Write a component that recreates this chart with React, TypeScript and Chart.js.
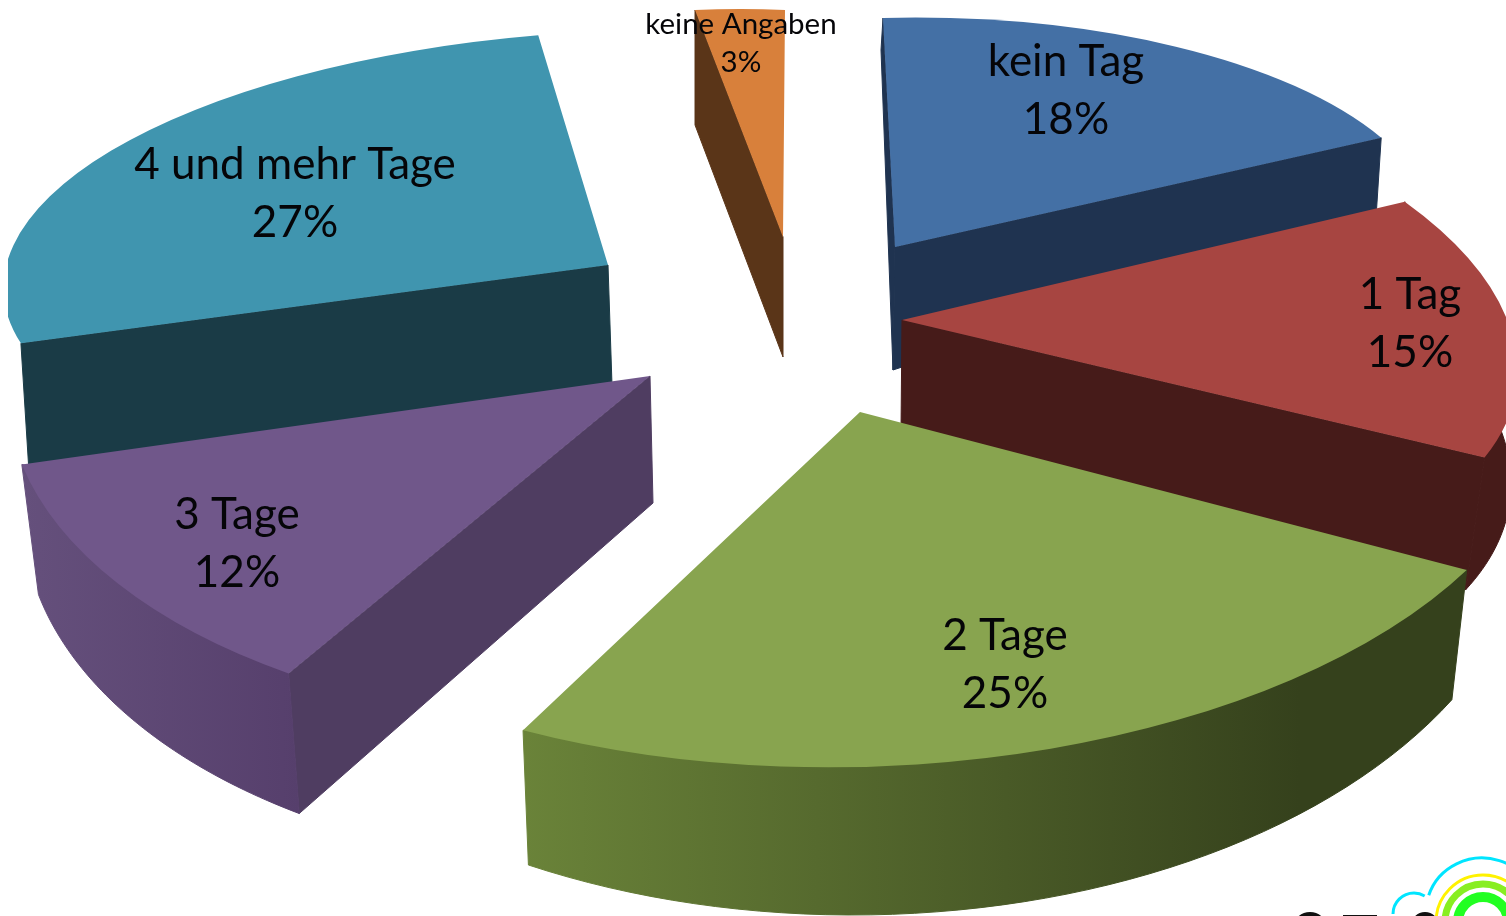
import React, { useEffect, useRef } from "react";
import { Chart, registerables } from "chart.js";

Chart.register(...registerables);

const categories = ["kein Tag", "1 Tag", "2 Tage", "3 Tage", "4 und mehr Tage", "keine Angaben"];
const shares = [18, 15, 25, 12, 27, 3];

const topColors = ["#4470A5", "#A74541", "#88A44F", "#70578A", "#4095AF", "#D8803B"];
const wallColors = ["#1F3350", "#461B19", "#35411C", "#4F3D61", "#1A3B46", "#5A3518"];
const rimColors: [string, string][] = [
  ["#1F3350", "#1F3350"],
  ["#461B19", "#461B19"],
  ["#6A8339", "#35411C"],
  ["#65507C", "#563F6C"],
  ["#1A3B46", "#1A3B46"],
  ["#5A3518", "#5A3518"],
];

// Exploded, perspective-squashed placement of each slice (layout only).
type V = [number, number];
const topFace: { o: V; a: V; b: V }[] = [
  { o: [895, 247], a: [543, -13], b: [12, 229] },
  { o: [902, 320], a: [606, 2], b: [107, 282] },
  { o: [860, 412], a: [694, -15], b: [-3, 355] },
  { o: [650, 376], a: [641, 21], b: [-60, 351] },
  { o: [608, 265], a: [603, -6], b: [-44, 235] },
  { o: [783, 237], a: [480, 21], b: [-2, 227] },
];
const bottomFace: { o: V; a: V; b: V }[] = [
  { o: [893, 370], a: [540, -26], b: [12, 320] },
  { o: [901, 430], a: [606, 20], b: [70, 295] },
  { o: [856, 503], a: [680, -2], b: [0, 412] },
  { o: [653, 503], a: [627, 23], b: [-59, 367] },
  { o: [612, 385], a: [600, -8], b: [-41, 241] },
  { o: [783, 357], a: [480, 22], b: [-2, 232] },
];
const paintOrder = [5, 0, 4, 1, 3, 2];
const showStartWall = [true, false, false, true, true, true];
const showEndWall = [true, true, false, false, false, false];
const showRim = [false, true, true, true, false, false];
const clipLeft = [0, 0, 0, 0, 8, 0];

const labelSpots: { x: number; y: number; lineGap: number; size: number }[] = [
  { x: 1066, y: 62, lineGap: 58, size: 44 },
  { x: 1410, y: 295, lineGap: 58, size: 44 },
  { x: 1005, y: 636, lineGap: 58, size: 44 },
  { x: 237, y: 515, lineGap: 58, size: 44 },
  { x: 295, y: 165, lineGap: 58, size: 44 },
  { x: 741, y: 24, lineGap: 38, size: 29.5 },
];

const faceAt = (f: { o: V; a: V; b: V }, angle: number, k = 1): V => {
  const t = angle + Math.PI / 2;
  const u = Math.sin(t) * k;
  const v = -Math.cos(t) * k;
  return [f.o[0] + f.a[0] * u + f.b[0] * v, f.o[1] + f.a[1] * u + f.b[1] * v];
};

const poly = (ctx: CanvasRenderingContext2D, pts: V[], fill: string | CanvasGradient) => {
  ctx.beginPath();
  pts.forEach((p, i) => (i ? ctx.lineTo(p[0], p[1]) : ctx.moveTo(p[0], p[1])));
  ctx.closePath();
  ctx.fillStyle = fill;
  ctx.fill();
  ctx.strokeStyle = fill;
  ctx.lineWidth = 1;
  ctx.stroke();
};

const pie3d = {
  id: "pie3d",
  beforeDatasetDraw(chart: any) {
    const ctx: CanvasRenderingContext2D = chart.ctx;
    const arcs = chart.getDatasetMeta(0).data;
    for (const i of paintOrder) {
      const arc = arcs[i];
      const top = topFace[i];
      const bot = bottomFace[i];
      const s = arc.startAngle;
      const e = arc.endAngle;
      if (showStartWall[i]) poly(ctx, [top.o, faceAt(top, s), faceAt(bot, s), bot.o], wallColors[i]);
      if (showEndWall[i]) poly(ctx, [top.o, faceAt(top, e), faceAt(bot, e), bot.o], wallColors[i]);
      if (showRim[i]) {
        const rimPts: V[] = [];
        const steps = 48;
        for (let k = 0; k <= steps; k++) {
          const inset = k === 0 || k === steps ? 1 : 0.98;
          rimPts.push(faceAt(top, s + ((e - s) * k) / steps, inset));
        }
        for (let k = steps; k >= 0; k--) rimPts.push(faceAt(bot, s + ((e - s) * k) / steps));
        const xs = rimPts.map((p) => p[0]);
        const g = ctx.createLinearGradient(Math.min(...xs), 0, i === 2 ? 1300 : Math.max(...xs), 0);
        g.addColorStop(0, rimColors[i][0]);
        g.addColorStop(1, rimColors[i][1]);
        poly(ctx, rimPts, g);
      }

      const R = arc.outerRadius;
      const cx = arc.x;
      const cy = arc.y;
      ctx.save();
      if (clipLeft[i]) {
        ctx.beginPath();
        ctx.rect(clipLeft[i], 0, chart.width, chart.height);
        ctx.clip();
      }
      ctx.transform(
        top.a[0] / R,
        top.a[1] / R,
        top.b[0] / R,
        top.b[1] / R,
        top.o[0] - (top.a[0] * cx + top.b[0] * cy) / R,
        top.o[1] - (top.a[1] * cx + top.b[1] * cy) / R
      );
      arc.draw(ctx);
      ctx.restore();
    }
    return false;
  },
  afterDraw(chart: any) {
    const ctx: CanvasRenderingContext2D = chart.ctx;
    ctx.save();
    ctx.textAlign = "center";
    ctx.textBaseline = "middle";
    ctx.fillStyle = "#050508";
    categories.forEach((name, i) => {
      const l = labelSpots[i];
      ctx.font = `${l.size}px Lato`;
      ctx.fillText(name, l.x, l.y);
      ctx.fillText(`${shares[i]}%`, l.x, l.y + l.lineGap);
    });
    ctx.restore();

    // partly visible logo in the corner
    const ring = (x: number, y: number, rx: number, ry: number, a0: number, a1: number, c: string, w: number) => {
      ctx.beginPath();
      ctx.ellipse(x, y, rx, ry, 0, a0, a1);
      ctx.strokeStyle = c;
      ctx.lineWidth = w;
      ctx.stroke();
    };
    ctx.save();
    ring(1482, 912, 56, 54, Math.PI * 1.1, Math.PI * 1.9, "#00E5FF", 3);
    ring(1414, 914, 21, 21, Math.PI * 1.0, Math.PI * 1.67, "#00E5FF", 3);
    ring(1483, 922, 47, 47, Math.PI * 1.0, Math.PI * 2, "#FFF200", 3);
    ring(1483, 922, 38, 38, Math.PI * 1.0, Math.PI * 2, "#88EE22", 7);
    ring(1483, 922, 25, 25, Math.PI * 1.0, Math.PI * 2, "#22FF22", 10);
    ctx.fillStyle = "#111";
    ctx.beginPath();
    ctx.ellipse(1310, 926, 16, 14, 0, 0, Math.PI * 2);
    ctx.ellipse(1425, 926, 14, 14, 0, 0, Math.PI * 2);
    ctx.fill();
    ctx.fillRect(1343, 915, 34, 1);
    ctx.restore();
  },
};

export default function App() {
  const ref = useRef<HTMLCanvasElement>(null);
  useEffect(() => {
    document.body.style.margin = "0";
    const chart = new Chart(ref.current!, {
      type: "pie",
      data: {
        labels: categories,
        datasets: [{ data: shares, backgroundColor: topColors, borderWidth: 0 }],
      },
      options: {
        responsive: false,
        animation: false,
        plugins: { legend: { display: false }, tooltip: { enabled: false } },
      },
      plugins: [pie3d],
    } as any);
    return () => chart.destroy();
  }, []);
  return <canvas ref={ref} width={1506} height={916} style={{ position: "fixed", left: 0, top: 0 }} />;
}
